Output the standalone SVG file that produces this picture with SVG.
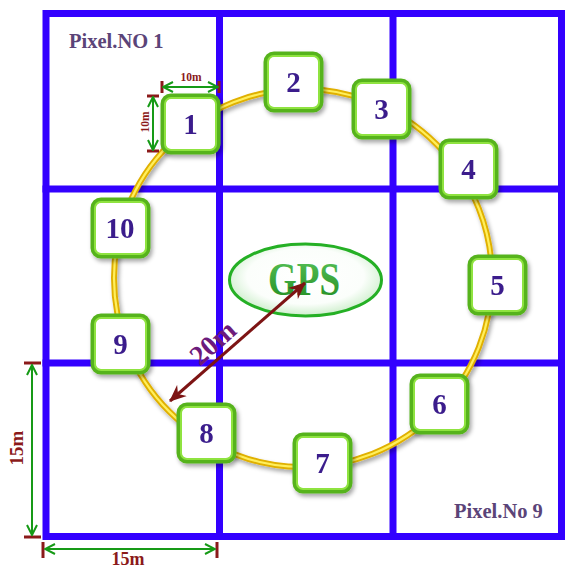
<svg xmlns="http://www.w3.org/2000/svg" width="565" height="568" viewBox="0 0 565 568">
<defs>
<style>
.grid{stroke:#3300ff;stroke-width:7;fill:none;stroke-linecap:square}
.box rect.o{fill:#fff;stroke:#57b31f;stroke-width:5}
.box rect.i{fill:none;stroke:#8fe33f;stroke-width:2}
.num{font-family:"Liberation Serif",serif;font-weight:bold;font-size:29px;fill:#3b1e8c;text-anchor:middle}
.pix{font-family:"Liberation Serif",serif;font-weight:bold;font-size:20.5px;fill:#5b4478}
.dim{font-family:"Liberation Serif",serif;font-weight:bold;fill:#8b1a1a;text-anchor:middle}
.tick{stroke:#8b1a1a;stroke-width:3}
.garrow{stroke:#169a16;stroke-width:2;fill:none}
</style>
<filter id="sh" x="-20%" y="-20%" width="150%" height="150%">
<feDropShadow dx="2" dy="3" stdDeviation="2" flood-color="#000" flood-opacity="0.35"/>
</filter>
<radialGradient id="gpsg" cx="50%" cy="45%" r="55%">
<stop offset="0" stop-color="#ffffff"/>
<stop offset="0.7" stop-color="#fbfefb"/>
<stop offset="1" stop-color="#cdeecb"/>
</radialGradient>
<linearGradient id="gtext" x1="0" y1="0" x2="0" y2="1">
<stop offset="0" stop-color="#5ac45a"/>
<stop offset="1" stop-color="#1f8a1f"/>
</linearGradient>
<marker id="ga" viewBox="0 0 12 12" refX="11" refY="6" markerWidth="12" markerHeight="12" markerUnits="userSpaceOnUse" orient="auto-start-reverse">
<path d="M1,1 L11,6 L1,11" fill="none" stroke="#169a16" stroke-width="2"/>
</marker>
<marker id="ra" viewBox="0 0 16 14" refX="15" refY="7" markerWidth="17" markerHeight="15" markerUnits="userSpaceOnUse" orient="auto-start-reverse">
<path d="M0,0 L16,7 L0,14 L5,7 Z" fill="#7d1414"/>
</marker>
</defs>
<rect width="565" height="568" fill="#ffffff"/>
<g id="grid">
<rect class="grid" x="46" y="13.5" width="515.5" height="523"/>
<line class="grid" x1="219.5" y1="13.5" x2="219.5" y2="536.5"/>
<line class="grid" x1="393" y1="13.5" x2="393" y2="536.5"/>
<line class="grid" x1="46" y1="189" x2="561.5" y2="189"/>
<line class="grid" x1="46" y1="363" x2="561.5" y2="363"/>
</g>
<text class="pix" x="69" y="48">Pixel.NO 1</text>
<text class="pix" x="454" y="518">Pixel.No 9</text>
<g id="ring" filter="url(#sh)">
<circle cx="303" cy="278" r="189" fill="none" stroke="#e0b000" stroke-width="6"/>
<circle cx="303" cy="278" r="189" fill="none" stroke="#ffef5c" stroke-width="2.2"/>
</g>
<g id="gps">
<ellipse cx="305.5" cy="280" rx="76" ry="36" fill="url(#gpsg)" stroke="#25b025" stroke-width="3"/>
<text x="304" y="295" font-family="Liberation Serif,serif" font-weight="bold" font-size="46" fill="url(#gtext)" text-anchor="middle" textLength="72" lengthAdjust="spacingAndGlyphs">GPS</text>
</g>
<g id="connectors">
<line x1="305" y1="283" x2="170" y2="401" stroke="#7d1414" stroke-width="3" marker-start="url(#ra)" marker-end="url(#ra)"/>
<text x="213" y="352" class="dim" font-size="28" style="fill:#6d1b7b" transform="rotate(-42 213 343)">20m</text>
<line class="tick" x1="162" y1="81" x2="162" y2="93"/>
<line class="tick" x1="219" y1="81" x2="219" y2="93"/>
<line class="garrow" x1="163" y1="87" x2="218" y2="87" marker-start="url(#ga)" marker-end="url(#ga)"/>
<text class="dim" x="191" y="81" font-size="11.5">10m</text>
<line class="tick" x1="147" y1="96" x2="159" y2="96"/>
<line class="tick" x1="147" y1="151" x2="159" y2="151"/>
<line class="garrow" x1="153" y1="97" x2="153" y2="150" marker-start="url(#ga)" marker-end="url(#ga)"/>
<text class="dim" x="0" y="0" font-size="11.5" transform="translate(149 122) rotate(-90)">10m</text>
<line class="tick" x1="24" y1="363" x2="41" y2="363"/>
<line class="tick" x1="24" y1="537" x2="41" y2="537"/>
<line class="garrow" x1="32" y1="365" x2="32" y2="535" marker-start="url(#ga)" marker-end="url(#ga)"/>
<text class="dim" x="0" y="0" font-size="19" transform="translate(23 448) rotate(-90)">15m</text>
<line class="tick" x1="43" y1="542" x2="43" y2="558"/>
<line class="tick" x1="217" y1="542" x2="217" y2="558"/>
<line class="garrow" x1="45" y1="549" x2="215" y2="549" marker-start="url(#ga)" marker-end="url(#ga)"/>
<text class="dim" x="128" y="565" font-size="18">15m</text>
</g>
<g id="n1" class="box" filter="url(#sh)"><rect class="o" x="163" y="96" width="55" height="56" rx="8"/><rect class="i" x="165" y="98" width="51" height="52" rx="6"/><text class="num" x="190.5" y="134">1</text></g>
<g id="n2" class="box" filter="url(#sh)"><rect class="o" x="266" y="54" width="55" height="56" rx="8"/><rect class="i" x="268" y="56" width="51" height="52" rx="6"/><text class="num" x="293.5" y="92">2</text></g>
<g id="n3" class="box" filter="url(#sh)"><rect class="o" x="354" y="81" width="55" height="56" rx="8"/><rect class="i" x="356" y="83" width="51" height="52" rx="6"/><text class="num" x="381.5" y="119">3</text></g>
<g id="n4" class="box" filter="url(#sh)"><rect class="o" x="441" y="141" width="55" height="56" rx="8"/><rect class="i" x="443" y="143" width="51" height="52" rx="6"/><text class="num" x="468.5" y="179">4</text></g>
<g id="n5" class="box" filter="url(#sh)"><rect class="o" x="470" y="257" width="55" height="56" rx="8"/><rect class="i" x="472" y="259" width="51" height="52" rx="6"/><text class="num" x="497.5" y="295">5</text></g>
<g id="n6" class="box" filter="url(#sh)"><rect class="o" x="412" y="376" width="55" height="56" rx="8"/><rect class="i" x="414" y="378" width="51" height="52" rx="6"/><text class="num" x="439.5" y="414">6</text></g>
<g id="n7" class="box" filter="url(#sh)"><rect class="o" x="295" y="435" width="55" height="56" rx="8"/><rect class="i" x="297" y="437" width="51" height="52" rx="6"/><text class="num" x="322.5" y="473">7</text></g>
<g id="n8" class="box" filter="url(#sh)"><rect class="o" x="179" y="405" width="55" height="56" rx="8"/><rect class="i" x="181" y="407" width="51" height="52" rx="6"/><text class="num" x="206.5" y="443">8</text></g>
<g id="n9" class="box" filter="url(#sh)"><rect class="o" x="93" y="316" width="55" height="56" rx="8"/><rect class="i" x="95" y="318" width="51" height="52" rx="6"/><text class="num" x="120.5" y="354">9</text></g>
<g id="n10" class="box" filter="url(#sh)"><rect class="o" x="93" y="200" width="55" height="56" rx="8"/><rect class="i" x="95" y="202" width="51" height="52" rx="6"/><text class="num" x="120" y="238">10</text></g>
</svg>
